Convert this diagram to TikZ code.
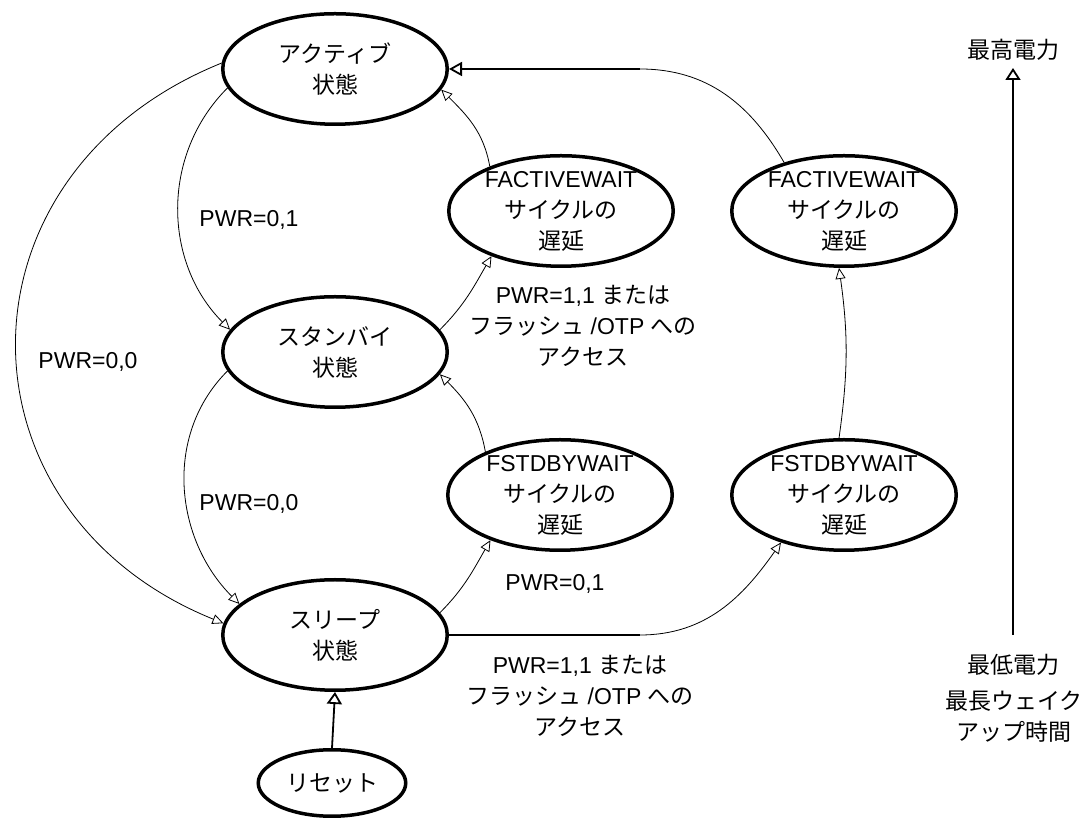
\documentclass[tikz,border=0pt]{standalone}
\usepackage{fontspec}
\setmainfont{Liberation Sans}
\newfontfamily\jp{Noto Sans CJK JP}
\usetikzlibrary{shapes.geometric,arrows.meta}

\begin{document}
\begin{tikzpicture}[x=1pt,y=1pt,
  font=\fontsize{23}{31}\selectfont,
  st/.style={draw,ellipse,line width=3.5pt,minimum width=224.5pt,minimum height=110.5pt,inner sep=0pt},
  tx/.style={align=center,inner sep=0pt},
  jtx/.style={tx,font=\fontsize{23}{31}\selectfont\jp},
  conn/.style={line width=0.8pt,-{Triangle[open,length=11pt,width=10pt]}},
  heavy/.style={line width=1.8pt}]
\useasboundingbox (0,0) rectangle (1086,821);

\node[st] (act) at (335,752) {};
\node[st] (stby) at (335,469) {};
\node[st] (slp) at (335,186) {};
\node[st] (faw1) at (561,610) {};
\node[st] (fsw1) at (560,326) {};
\node[st] (faw2) at (844,610) {};
\node[st] (fsw2) at (844,326) {};
\node[st,minimum width=147.5pt,minimum height=66.5pt] (rst) at (332,38) {};

\node[jtx] (act-t) at (act) {アクティブ\\状態};
\node[jtx] (stby-t) at (stby) {スタンバイ\\状態};
\node[jtx] (slp-t) at (slp) {スリープ\\状態};
\node[jtx] (rst-t) at (rst) {リセット};
\node[tx] (faw1-t) at (faw1) {FACTIVEWAIT\\{\jp サイクルの}\\{\jp 遅延}};
\node[tx] (fsw1-t) at (fsw1) {FSTDBYWAIT\\{\jp サイクルの}\\{\jp 遅延}};
\node[tx] (faw2-t) at (faw2) {FACTIVEWAIT\\{\jp サイクルの}\\{\jp 遅延}};
\node[tx] (fsw2-t) at (fsw2) {FSTDBYWAIT\\{\jp サイクルの}\\{\jp 遅延}};

\draw[conn] (act.190) to[out=225,in=135] (stby.168);
\draw[conn] (stby.190) to[out=225,in=135] (slp.162);
\draw[conn] (act.177) .. controls +(202:296) and +(158:296) .. (slp.174);
\draw[conn] (stby.12) to[out=45,in=240] (faw1.213);
\draw[conn] (faw1.148) to[out=100,in=-45] (act.349);
\draw[conn] (slp.12) to[out=45,in=240] (fsw1.213);
\draw[conn] (fsw1.150) to[out=100,in=-45] (stby.348);
\draw[conn] (fsw2.95) to[bend right=8] (faw2.265);

\coordinate (k1) at (640,186);
\coordinate (k2) at (640,752);
\draw[heavy] (slp.east) -- (k1);
\draw[conn] (k1) to[out=0,in=235] (fsw2.217);
\draw[line width=0.8pt] (faw2.141) to[out=120,in=0] (k2);
\draw[heavy,-{Triangle[open,length=13pt,width=14pt]}] (k2) -- (act.east);
\draw[heavy,-{Triangle[open,length=12pt,width=15pt]}] (rst.north) -- (slp.south);

\node[tx] (l1) at (249,601) {PWR=0,1};
\node[tx] (l2) at (88,459) {PWR=0,0};
\node[tx] (l3) at (249,317) {PWR=0,0};
\node[tx] (l4) at (555,237) {PWR=0,1};
\node[tx] (l5) at (583,495) {PWR=1,1 {\jp または}\\{\jp フラッシュ} /OTP {\jp への}\\{\jp アクセス}};
\node[tx] (l6) at (580,125) {PWR=1,1 {\jp または}\\{\jp フラッシュ} /OTP {\jp への}\\{\jp アクセス}};

\node[jtx] (hi) at (1013,771) {最高電力};
\node[jtx] (lo) at (1013,156) {最低電力};
\node[jtx] (wk) at (1014,104) {最長ウェイク\\アップ時間};
\coordinate (ax0) at (1013,186);
\coordinate (ax1) at (1013,753);
\draw[heavy,-{Triangle[open,length=12pt,width=15pt]}] (ax0) -- (ax1);
\end{tikzpicture}
\end{document}
